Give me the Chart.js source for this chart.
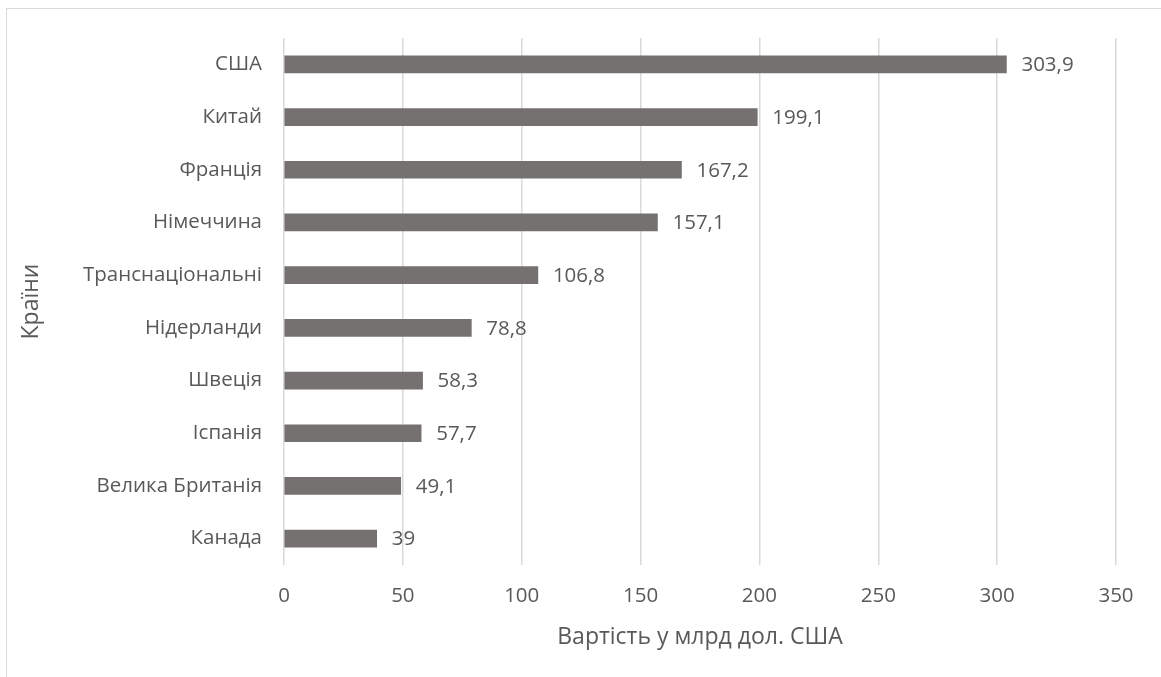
<!DOCTYPE html>
<html>
<head>
<meta charset="utf-8">
<script src="https://cdn.jsdelivr.net/npm/chart.js@4"></script>
<style>
  html, body { margin: 0; padding: 0; background: #fff; }
  #wrap { position: relative; width: 1161px; height: 677px; overflow: hidden; }
  #frame { position: absolute; left: 6px; top: 8px; width: 1200px; height: 700px; border: 1.5px solid #d9d9d9; box-sizing: border-box; }
  canvas { position: absolute; left: 0; top: 0; }
</style>
</head>
<body>
<div id="wrap">
  <div id="frame"></div>
  <canvas id="chart" width="1161" height="677"></canvas>
</div>
<script>
const countries = ["США", "Китай", "Франція", "Німеччина", "Транснаціональні", "Нідерланди", "Швеція", "Іспанія", "Велика Британія", "Канада"];
const values = [303.9, 199.1, 167.2, 157.1, 106.8, 78.8, 58.3, 57.7, 49.1, 39];
const xTicks = [0, 50, 100, 150, 200, 250, 300, 350];

const textColor = "#595959";
const fontFamily = "'Open Sans', sans-serif";

// підписи значень праворуч від стовпчиків
const valueLabels = {
    id: "valueLabels",
    afterDatasetsDraw(chart) {
        const ctx = chart.ctx;
        const meta = chart.getDatasetMeta(0);
        ctx.save();
        ctx.font = "20.5px " + fontFamily;
        ctx.fillStyle = textColor;
        ctx.textAlign = "left";
        ctx.textBaseline = "middle";
        meta.data.forEach((bar, i) => {
            const txt = String(values[i]).replace(".", ",");
            ctx.fillText(txt, bar.x + 15, bar.y + 1);
        });
        ctx.restore();
    }
};

new Chart(document.getElementById("chart").getContext("2d"), {
    type: "bar",
    data: {
        labels: countries,
        datasets: [{
            data: values,
            backgroundColor: "#767171",
            borderWidth: 0,
            barThickness: 17
        }]
    },
    options: {
        indexAxis: "y",
        responsive: false,
        animation: false,
        layout: { padding: { top: 38, right: 45, left: 0, bottom: 0 } },
        plugins: {
            legend: { display: false },
            tooltip: { enabled: false }
        },
        scales: {
            x: {
                min: 0,
                max: 350,
                afterBuildTicks: (scale) => { scale.ticks = xTicks.map(v => ({ value: v })); },
                afterFit: (scale) => { scale.height = 112; },
                grid: { color: "#d9d9d9", lineWidth: 1.5, drawTicks: false },
                border: { display: false },
                ticks: {
                    color: textColor,
                    font: { family: fontFamily, size: 20.5 },
                    padding: 19
                },
                title: {
                    display: true,
                    text: "Вартість у млрд дол. США",
                    color: textColor,
                    font: { family: fontFamily, size: 23 },
                    padding: { top: 0, bottom: 26 }
                }
            },
            y: {
                afterFit: (scale) => { scale.width = 284; },
                grid: { display: false, drawTicks: false },
                border: { display: false },
                ticks: {
                    color: textColor,
                    font: { family: fontFamily, size: 20.5 },
                    padding: 22
                },
                title: {
                    display: true,
                    text: "Країни",
                    color: textColor,
                    font: { family: fontFamily, size: 23 },
                    padding: { top: 18, bottom: 0 }
                }
            }
        }
    },
    plugins: [valueLabels]
});
</script>
</body>
</html>
